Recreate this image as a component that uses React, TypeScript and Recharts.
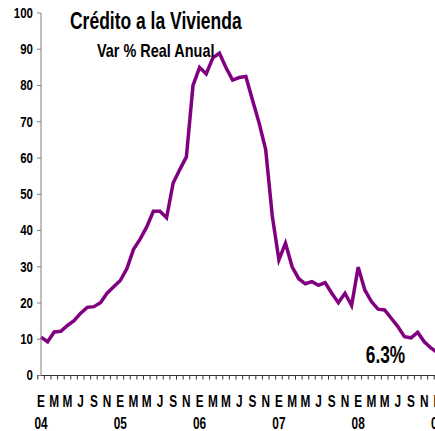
import { LineChart, Line, XAxis, YAxis, LabelList } from 'recharts';

// Crédito a la vivienda, var % real anual, ene-2004 .. ene-2009
const years = ['04', '05', '06', '07', '08', '09'];
const monthLetters = ['E', 'F', 'M', 'A', 'M', 'J', 'J', 'A', 'S', 'O', 'N', 'D'];
const credito = [
  10.6, 9.3, 12.0, 12.2, 13.8, 15.1, 17.2, 18.8, 19.0, 20.1, 22.7, 24.5,
  26.2, 29.5, 34.8, 37.6, 41.0, 45.3, 45.3, 43.5, 53.1, 56.8, 60.3, 80.0,
  85.0, 83.2, 87.6, 88.9, 84.9, 81.5, 82.2, 82.5, 76.0, 69.7, 62.3, 44.0,
  31.9, 36.5, 30.0, 26.7, 25.3, 25.9, 24.9, 25.6, 22.7, 20.1, 22.7, 19.3,
  29.9, 23.6, 20.4, 18.3, 18.1, 15.8, 13.5, 10.7, 10.4, 11.9, 9.3, 7.6,
  6.3,
];
const yTicks = [0, 10, 20, 30, 40, 50, 60, 70, 80, 90, 100];
const lastLabel = '6.3%';

const data = credito.map((valor, i) => ({
  mes: years[Math.floor(i / 12)] + '-' + (i % 12),
  letra: monthLetters[i % 12],
  anio: years[Math.floor(i / 12)],
  valor,
}));

// no narrow font installed, so squeeze Liberation Sans horizontally
const FONT = '"Liberation Sans", Arial, sans-serif';
const CHART_W = 440;
const CHART_H = 431;
const MARGIN = { top: 13, right: 2.5, bottom: 5.5, left: 0 };
const Y_W = 41;
const BAND = (CHART_W - MARGIN.left - MARGIN.right - Y_W) / data.length;

const narrow = (x: number, y: number, s: number) => `translate(${x},${y}) scale(${s},1)`;

const MonthTick = (props: any) => {
  const { x, y, index } = props;
  const d = data[index];
  return (
    <g>
      <line x1={x - BAND / 2} x2={x - BAND / 2} y1={y} y2={y + 4} stroke='#333' />
      {index % 2 === 0 && (
        <text transform={narrow(x, y + 31, 0.74)} textAnchor='middle' fill='#000' fontSize={16} fontWeight='bold' fontFamily={FONT}>
          {d.letra}
        </text>
      )}
      {index % 12 === 0 && (
        <text transform={narrow(x, y + 53, 0.74)} textAnchor='middle' fill='#000' fontSize={16} fontWeight='bold' fontFamily={FONT}>
          {d.anio}
        </text>
      )}
    </g>
  );
};

const ValueTick = (props: any) => {
  const { x, y, payload } = props;
  return (
    <text transform={narrow(x, y, 0.82)} dy='0.355em' textAnchor='end' fill='#000' fontSize={14} fontWeight='bold' fontFamily={FONT}>
      {payload.value}
    </text>
  );
};

const renderLast = (props: any) => {
  const { x, y, index } = props;
  if (index !== data.length - 1) return null;
  return (
    <text transform={narrow(x - 52, y + 10.5, 0.75)} textAnchor='middle' fill='#000' fontSize={23} fontWeight='bold' fontFamily={FONT}>
      {lastLabel}
    </text>
  );
};

const titleStyle = {
  position: 'absolute' as const,
  fontFamily: FONT,
  fontWeight: 'bold' as const,
  lineHeight: 1,
  color: '#000',
  whiteSpace: 'nowrap' as const,
  transformOrigin: 'left top',
};

export default function App() {
  return (
    <div style={{ position: 'absolute', left: 0, top: 0, width: 435, height: 431, overflow: 'hidden', background: '#fff' }}>
      <LineChart width={CHART_W} height={CHART_H} data={data} margin={MARGIN}>
        <XAxis
          dataKey='mes'
          interval={0}
          height={50}
          tickSize={0}
          tickMargin={0}
          tickLine={false}
          axisLine={{ stroke: '#333' }}
          tick={<MonthTick />}
        />
        <YAxis
          width={Y_W}
          domain={[0, 100]}
          ticks={yTicks}
          interval={0}
          tickSize={4}
          tickMargin={4}
          axisLine={{ stroke: '#808080' }}
          tickLine={{ stroke: '#808080' }}
          tick={<ValueTick />}
        />
        <Line
          type='linear'
          dataKey='valor'
          stroke='#800080'
          strokeWidth={3.5}
          dot={false}
          isAnimationActive={false}
        >
          <LabelList dataKey='valor' content={renderLast} />
        </Line>
      </LineChart>
      <div style={{ ...titleStyle, left: 70, top: 10, fontSize: 23, transform: 'scaleX(0.76)' }}>
        Crédito a la Vivienda
      </div>
      <div style={{ ...titleStyle, left: 97, top: 41.4, fontSize: 19, transform: 'scaleX(0.76)' }}>
        Var % Real Anual
      </div>
    </div>
  );
}
